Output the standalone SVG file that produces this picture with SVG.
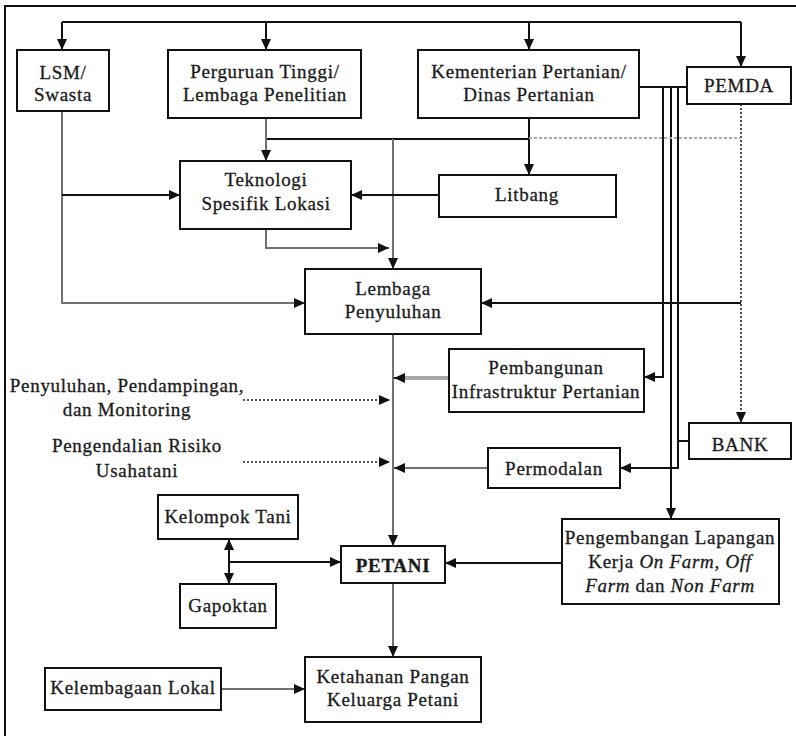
<svg xmlns="http://www.w3.org/2000/svg" width="796" height="736" viewBox="0 0 796 736">
<defs>
<style>
.box{fill:#fff;stroke:#111;stroke-width:2}
.t{font-family:"Liberation Serif","Times New Roman",serif;font-size:19px;letter-spacing:0.7px;fill:#1a1a1a;stroke:#1a1a1a;stroke-width:0.3;text-anchor:middle}
.b{font-weight:bold}
.i{font-style:italic}
.k{fill:none;stroke:#111;stroke-width:2}
.g{fill:none;stroke:#707070;stroke-width:2}
.lg{fill:none;stroke:#a8a8a8;stroke-width:4}
.d{fill:none;stroke:#222;stroke-width:1.6;stroke-dasharray:2 2}
.dg{fill:none;stroke:#aaa;stroke-width:2;stroke-dasharray:3 2}
</style>
<marker id="a" markerUnits="userSpaceOnUse" markerWidth="12" markerHeight="10" refX="11" refY="5" orient="auto">
<path d="M0,0 L11,5 L0,10 Z" fill="#111"/>
</marker>
<marker id="as" markerUnits="userSpaceOnUse" markerWidth="12" markerHeight="10" refX="1" refY="5" orient="auto">
<path d="M11,0 L0,5 L11,10 Z" fill="#111"/>
</marker>
</defs>
<rect width="796" height="736" fill="#fff"/>
<path d="M5,740 V6 H800" fill="none" stroke="#111" stroke-width="2"/>

<g id="connectors">
<path class="k" d="M62,22 H741"/>
<path class="k" d="M62,22 V50" marker-end="url(#a)"/>
<path class="k" d="M266,22 V50" marker-end="url(#a)"/>
<path class="k" d="M529,22 V50" marker-end="url(#a)"/>
<path class="k" d="M741,22 V67" marker-end="url(#a)"/>
<path class="k" d="M639,87 H687"/>
<path class="k" d="M663,87 V377 H644" marker-end="url(#a)"/>
<path class="k" d="M671,87 V519" marker-end="url(#a)"/>
<path class="k" d="M678,87 V468 H620" marker-end="url(#a)"/>
<path class="k" d="M689,441 H678"/>
<path class="d" d="M741,104 V423" marker-end="url(#a)"/>
<path class="k" d="M741,303 H481" marker-end="url(#a)"/>
<path class="k" d="M529,118 V175" marker-end="url(#a)"/>
<path class="k" d="M266,139 H529"/>
<path class="dg" d="M529,138 H741"/>
<path class="g" d="M266,118 V161" marker-end="url(#a)"/>
<path class="g" d="M393,139 V269" marker-end="url(#a)"/>
<path class="k" d="M439,195 H351" marker-end="url(#a)"/>
<path class="g" d="M266,229 V248 H389" marker-end="url(#a)"/>
<path class="g" d="M62,111 V303 H305" marker-end="url(#a)"/>
<path class="k" d="M62,195 H180" marker-end="url(#a)"/>
<path class="g" d="M393,334 V546" marker-end="url(#a)"/>
<path class="lg" d="M449,378 H405"/>
<path class="k" d="M405,378 H394" marker-end="url(#a)"/>
<path class="d" d="M243,400 H390" marker-end="url(#a)"/>
<path class="d" d="M243,462 H390" marker-end="url(#a)"/>
<path class="g" d="M488,468 H394" marker-end="url(#a)"/>
<path class="k" d="M562,563 H445" marker-end="url(#a)"/>
<path class="k" d="M229,540 V584" marker-start="url(#as)" marker-end="url(#a)"/>
<path class="k" d="M229,562 H341" marker-end="url(#a)"/>
<path class="g" d="M393,583 V657" marker-end="url(#a)"/>
<path class="g" d="M221,689 H305" marker-end="url(#a)"/>
</g>

<g id="lsm"><rect class="box" x="17" y="50" width="92" height="61"/>
<text class="t" x="63" y="79">LSM/</text><text class="t" x="63" y="101">Swasta</text></g>
<g id="perguruan"><rect class="box" x="168" y="50" width="193" height="68"/>
<text class="t" x="265" y="78">Perguruan Tinggi/</text><text class="t" x="265" y="101">Lembaga Penelitian</text></g>
<g id="kementerian"><rect class="box" x="418" y="50" width="221" height="68"/>
<text class="t" x="529" y="78">Kementerian Pertanian/</text><text class="t" x="529" y="101">Dinas Pertanian</text></g>
<g id="pemda"><rect class="box" x="687" y="67" width="104" height="37"/>
<text class="t" x="739" y="92">PEMDA</text></g>
<g id="teknologi"><rect class="box" x="180" y="161" width="171" height="68"/>
<text class="t" x="266" y="186">Teknologi</text><text class="t" x="266" y="210">Spesifik Lokasi</text></g>
<g id="litbang"><rect class="box" x="439" y="175" width="177" height="42"/>
<text class="t" x="527" y="201">Litbang</text></g>
<g id="lembaga"><rect class="box" x="305" y="269" width="176" height="65"/>
<text class="t" x="393" y="295">Lembaga</text><text class="t" x="393" y="318">Penyuluhan</text></g>
<g id="pembangunan"><rect class="box" x="449" y="349" width="195" height="63"/>
<text class="t" x="546" y="374">Pembangunan</text><text class="t" x="546" y="398">Infrastruktur Pertanian</text></g>
<g id="bank"><rect class="box" x="689" y="423" width="102" height="36"/>
<text class="t" x="740" y="451">BANK</text></g>
<g id="permodalan"><rect class="box" x="488" y="448" width="132" height="40"/>
<text class="t" x="554" y="475">Permodalan</text></g>
<g id="label-penyuluhan"><text class="t" x="127" y="392">Penyuluhan, Pendampingan,</text><text class="t" x="127" y="416">dan Monitoring</text></g>
<g id="label-risiko"><text class="t" x="137" y="452">Pengendalian Risiko</text><text class="t" x="137" y="477">Usahatani</text></g>
<g id="kelompok"><rect class="box" x="158" y="495" width="140" height="44"/>
<text class="t" x="228" y="523">Kelompok Tani</text></g>
<g id="gapoktan"><rect class="box" x="180" y="584" width="96" height="44"/>
<text class="t" x="228" y="612">Gapoktan</text></g>
<g id="petani"><rect class="box" x="341" y="546" width="104" height="37"/>
<text class="t b" x="393" y="572">PETANI</text></g>
<g id="pengembangan"><rect class="box" x="562" y="519" width="217" height="85"/>
<text class="t" x="670" y="544">Pengembangan Lapangan</text>
<text class="t" x="670" y="568">Kerja <tspan class="i">On Farm, Off</tspan></text>
<text class="t" x="670" y="592"><tspan class="i">Farm</tspan> dan <tspan class="i">Non Farm</tspan></text></g>
<g id="ketahanan"><rect class="box" x="305" y="657" width="176" height="65"/>
<text class="t" x="393" y="683">Ketahanan Pangan</text><text class="t" x="393" y="706">Keluarga Petani</text></g>
<g id="kelembagaan"><rect class="box" x="45" y="668" width="176" height="42"/>
<text class="t" x="133" y="694">Kelembagaan Lokal</text></g>
</svg>
